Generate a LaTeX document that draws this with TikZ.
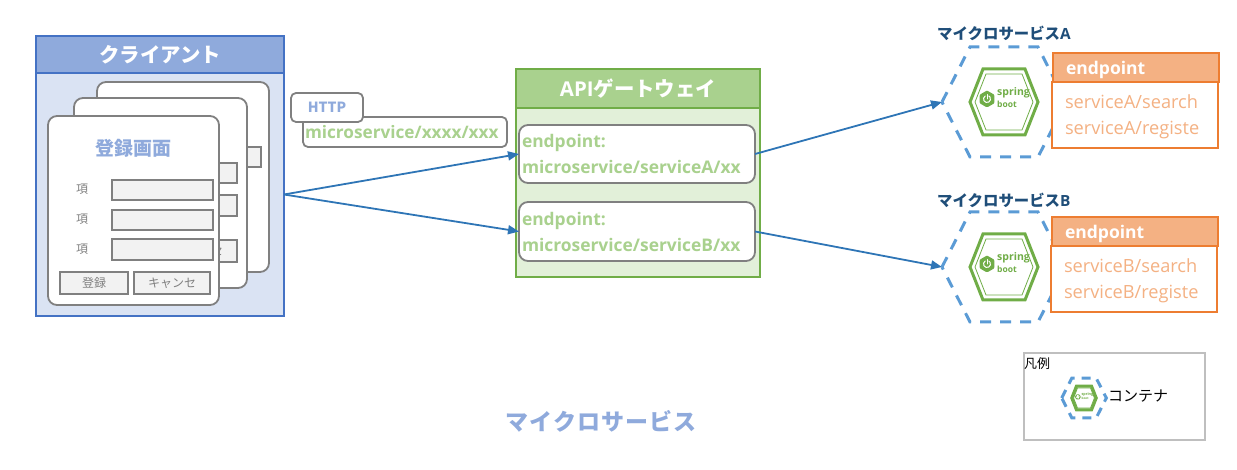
\documentclass[tikz,border=0pt]{standalone}
\usepackage{fontspec}
\setmainfont{Noto Sans CJK JP}
\newfontfamily\latinfont{Open Sans}
\usetikzlibrary{arrows.meta, shapes.geometric}
\definecolor{clientblue}{HTML}{8FAADC}
\definecolor{clientpale}{HTML}{DAE3F3}
\definecolor{clientline}{HTML}{4472C4}
\definecolor{gategreen}{HTML}{A9D18E}
\definecolor{gatepale}{HTML}{E2F0D9}
\definecolor{springgreen}{HTML}{70AD47}
\definecolor{epfill}{HTML}{F4B183}
\definecolor{epline}{HTML}{ED7D31}
\definecolor{hexblue}{HTML}{5B9BD5}
\definecolor{flowblue}{HTML}{2E75B6}
\definecolor{titlenavy}{HTML}{1F4E79}
\definecolor{boxgray}{HTML}{808080}
\definecolor{fieldfill}{HTML}{F2F2F2}
\tikzset{
    box node/.style={draw, anchor=north west, inner sep=0pt, outer sep=0pt, line width=2pt},
    card node/.style={box node, draw=boxgray, fill=white, rounded corners=9pt, line width=1.8pt},
    field node/.style={box node, draw=boxgray, fill=fieldfill, line width=1.8pt, text=boxgray, font=\fontsize{12}{12}\selectfont},
    item node/.style={text=boxgray, font=\fontsize{12}{12}\selectfont, inner sep=0pt},
    path node/.style={card node, text=gategreen, font=\latinfont\bfseries\fontsize{17.4}{26}\selectfont, align=left, inner xsep=3pt, text width=230pt},
    head node/.style={box node, text=white, font=\bfseries\fontsize{20.4}{20.4}\selectfont},
    ep head/.style={box node, draw=epline, fill=epfill, text=white, font=\latinfont\bfseries\fontsize{17.5}{18}\selectfont, align=left, inner xsep=13pt, text width=140pt, text depth=0pt},
    ep body/.style={box node, draw=epline, fill=white, text=epfill, font=\latinfont\fontsize{18.2}{26}\selectfont, align=left, inner xsep=13pt, text width=140pt, text depth=27pt},
    name node/.style={text=titlenavy, font=\bfseries\fontsize{15.4}{15.4}\selectfont, inner sep=0pt, anchor=west},
    flow/.style={draw=flowblue, line width=1.8pt, -{Triangle[length=11pt,width=9pt]}},
    hex dash/.style={dash pattern=on 11pt off 9pt},
    pics/container/.style={code={
        \draw[draw=hexblue, line width=3pt, hex dash] (-62,0) -- (-34,-55) -- (34,-55) -- (62,0) -- (34,55) -- (-34,55) -- cycle;
        \coordinate (-west) at (-62,0);
        \draw[draw=springgreen, line width=3pt, fill=white] (-34,0) -- (-21,-33) -- (21,-33) -- (34,0) -- (21,33) -- (-21,33) -- cycle;
        \draw[draw=springgreen, line width=.8pt] (-29,0) -- (-18,-28) -- (18,-28) -- (29,0) -- (18,28) -- (-18,28) -- cycle;
        \node[regular polygon, regular polygon sides=6, shape border rotate=30, fill=springgreen, rounded corners=1pt, minimum size=17pt, inner sep=0pt, transform shape] (-logo) at (-17,-3) {};
        \draw[white, line width=1pt, line cap=round] (-18.75,-6.03) arc[start angle=120, end angle=420, radius=3.5pt];
        \draw[white, line width=1pt, line cap=round] (-17,-7.5) -- (-17,-3);
        \node[text=springgreen, inner sep=0pt, anchor=west, transform shape, font=\latinfont\bfseries\fontsize{10.5}{11}\selectfont] (-spring) at (-7,-9) {spring};
        \node[text=springgreen, inner sep=0pt, anchor=west, transform shape, font=\latinfont\bfseries\fontsize{8.5}{8.5}\selectfont] (-boot) at (-7,2) {boot};
    }}
}
\begin{document}
\begin{tikzpicture}[x=1pt, y=-1pt]
\useasboundingbox (0,0) rectangle (1237,470);

\node[box node, draw=clientline, fill=clientpale, minimum width=248pt, minimum height=243pt] (clientbody) at (36,73) {};
\node[head node, draw=clientline, fill=clientblue, minimum width=248pt, minimum height=37pt] (clienthead) at (36,36) {クライアント};

\node[card node, minimum width=172pt, minimum height=190pt] (cardback) at (97,82) {};
\node[field node, minimum width=100pt, minimum height=20pt] (backfield) at (161,147) {};
\node[card node, minimum width=173pt, minimum height=190pt] (cardmid) at (74,98) {};
\node[field node, minimum width=100pt, minimum height=20pt] (midfielda) at (137,163) {};
\node[field node, minimum width=100pt, minimum height=21pt] (midfieldb) at (137,195) {};
\node[field node, minimum width=76pt, minimum height=22pt] (midcancel) at (161,240) {キャンセ};
\node[card node, minimum width=171pt, minimum height=189pt] (cardfront) at (48,116) {};
\node[text=clientblue, inner sep=0pt, font=\bfseries\fontsize{19}{19}\selectfont] (cardtitle) at (133,148) {登録画面};
\node[item node] (itema) at (82,189) {項};
\node[item node] (itemb) at (82,219) {項};
\node[item node] (itemc) at (82,249) {項};
\node[field node, minimum width=101pt, minimum height=20pt] (fielda) at (112,180) {};
\node[field node, minimum width=101pt, minimum height=20pt] (fieldb) at (112,210) {};
\node[field node, minimum width=101pt, minimum height=21pt] (fieldc) at (112,239) {};
\node[field node, minimum width=68pt, minimum height=22pt] (btnok) at (60,272) {登録};
\node[field node, minimum width=76pt, minimum height=22pt] (btncancel) at (134,272) {キャンセ};

\node[card node, minimum height=30pt, rounded corners=5pt, text=gategreen, align=left, inner xsep=2pt, text width=200pt, font=\latinfont\bfseries\fontsize{17.2}{18.5}\selectfont] (urlbox) at (303,117) {microservice/xxxx/xxx};
\node[card node, minimum width=72pt, minimum height=29pt, rounded corners=5pt, text=clientblue, font=\bfseries\fontsize{14}{14}\selectfont] (httpbox) at (291,93) {HTTP};

\node[box node, draw=springgreen, fill=gatepale, minimum width=244pt, minimum height=169pt] (gatebody) at (516,108) {};
\node[head node, draw=springgreen, fill=gategreen, minimum width=244pt, minimum height=39pt] (gatehead) at (516,69) {{\latinfont API}ゲートウェイ};
\node[path node, minimum height=58pt] (gateA) at (519,125) {endpoint:\\microservice/serviceA/xx};
\node[path node, minimum height=59pt] (gateB) at (519,202) {endpoint:\\microservice/serviceB/xx};

\node[name node] (nameA) at (937,33) {マイクロサービス{\latinfont A}};
\node[name node] (nameB) at (937,200) {マイクロサービス{\latinfont B}};
\pic (hexA) at (1004,102) {container};
\pic (hexB) at (1004,267) {container};

\node[ep body, minimum height=66pt] (epbodyA) at (1052,82) {serviceA/search\\serviceA/registe};
\node[ep head, minimum height=29pt] (epheadA) at (1053,53) {endpoint};
\node[ep body, minimum height=66pt] (epbodyB) at (1051,246) {serviceB/search\\serviceB/registe};
\node[ep head, minimum height=29pt] (epheadB) at (1052,217) {endpoint};

\draw[flow] (clientbody.east) -- (gateA.west);
\draw[flow] (clientbody.east) -- (gateB.west);
\draw[flow] (gateA.east) -- (hexA-west);
\draw[flow] (gateB.east) -- (hexB-west);

\node[box node, draw=black!25, minimum width=181pt, minimum height=87pt] (legendbox) at (1024,353) {};
\node[inner sep=0pt, anchor=west, font=\fontsize{13}{13}\selectfont] (legendtitle) at (1024,364) {凡例};
\pic[scale=.36, transform shape, hex dash/.style={dash pattern=on 9pt off 7pt}] (hexL) at (1084,398) {container};
\node[inner sep=0pt, anchor=west, font=\fontsize{15}{15}\selectfont] (legendtext) at (1108,396) {コンテナ};

\node[text=clientblue, inner sep=0pt, font=\bfseries\addfontfeature{LetterSpace=5}\fontsize{23}{23}\selectfont] (maintitle) at (601,421) {マイクロサービス};
\end{tikzpicture}
\end{document}
